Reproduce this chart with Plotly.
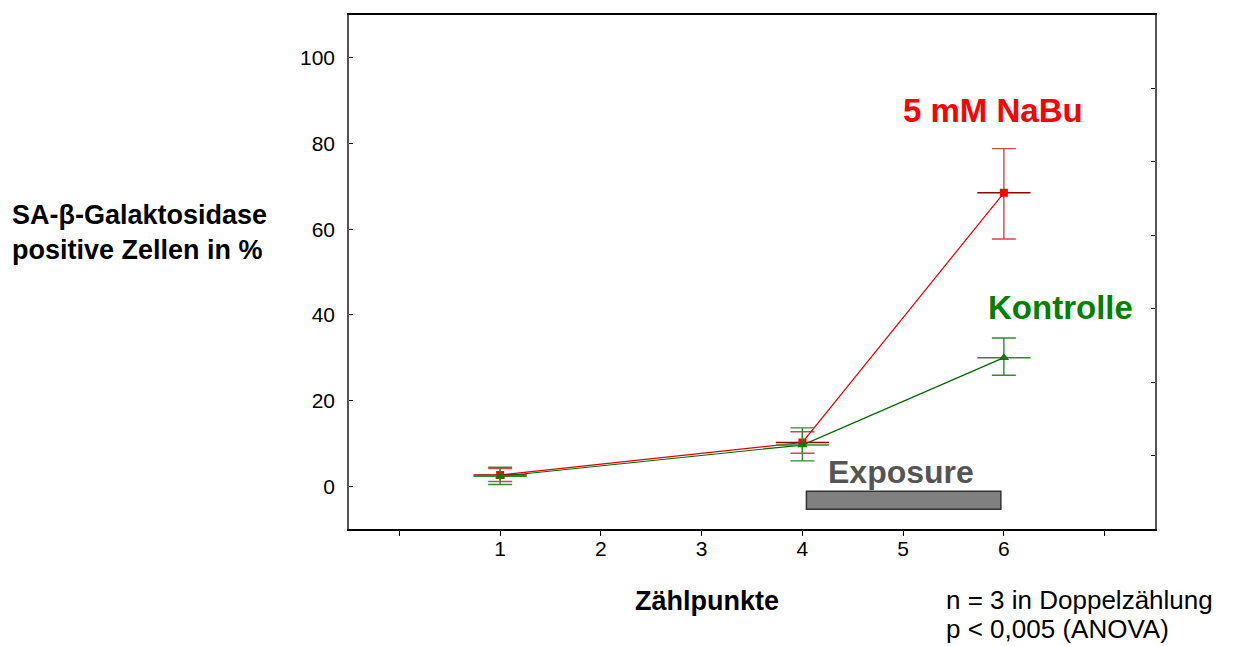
import plotly.graph_objects as go

# ---- data ----
timepoints = [1, 4, 6]
kontrolle_mean = [2.3, 9.6, 30.0]
kontrolle_err_plus = [2.1, 4.0, 4.6]
kontrolle_err_minus = [1.9, 3.7, 4.1]
nabu_mean = [2.6, 10.2, 68.5]
nabu_err_plus = [1.5, 2.5, 10.3]
nabu_err_minus = [1.5, 2.5, 10.8]
x_tick_vals = [0, 1, 2, 3, 4, 5, 6, 7]
x_tick_text = ["", "1", "2", "3", "4", "5", "6", ""]
y_tick_vals = [0, 20, 40, 60, 80, 100]
exposure_start = 4.04
exposure_end = 5.97
exposure_low = -5.4
exposure_high = -1.2

FONT = "Liberation Sans, Arial, sans-serif"
RED = "#ff0000"
GREEN = "#008000"

fig = go.Figure()

# NaBu series
fig.add_trace(go.Scatter(
    x=timepoints, y=nabu_mean, mode="lines",
    line=dict(color="#e00000", width=1.2), showlegend=False, hoverinfo="skip",
    error_y=dict(type="data", symmetric=False, array=nabu_err_plus,
                 arrayminus=nabu_err_minus, color="#d04848", thickness=1.4, width=12),
))
fig.add_trace(go.Scatter(
    x=timepoints, y=nabu_mean, mode="markers",
    marker=dict(symbol="line-ew", size=38, line=dict(color="#900000", width=1.5)),
    showlegend=False, hoverinfo="skip",
))
fig.add_trace(go.Scatter(
    x=timepoints, y=nabu_mean, mode="markers",
    marker=dict(symbol="square", size=8, color=RED), showlegend=False,
))

# Kontrolle series
fig.add_trace(go.Scatter(
    x=timepoints, y=kontrolle_mean, mode="lines",
    line=dict(color="#006400", width=1.2), showlegend=False, hoverinfo="skip",
    error_y=dict(type="data", symmetric=False, array=kontrolle_err_plus,
                 arrayminus=kontrolle_err_minus, color="#2e8b2e", thickness=1.4, width=12),
))
fig.add_trace(go.Scatter(
    x=timepoints, y=kontrolle_mean, mode="markers",
    marker=dict(symbol="line-ew", size=38, line=dict(color="#2e8b2e", width=1.5)),
    showlegend=False, hoverinfo="skip",
))
fig.add_trace(go.Scatter(
    x=timepoints, y=kontrolle_mean, mode="markers",
    marker=dict(symbol="triangle-up", size=9, color=GREEN), showlegend=False,
))

# secondary axis only for right-side ticks
fig.add_trace(go.Scatter(x=[None], y=[None], yaxis="y2", showlegend=False))

# Exposure bar
fig.add_shape(type="rect", xref="x", yref="y",
              x0=exposure_start, x1=exposure_end, y0=exposure_low, y1=exposure_high,
              fillcolor="#808080", line=dict(color="#333333", width=1.5))

annotations = [
    dict(x=5.89, y=87.6, xref="x", yref="y", text="<b>5 mM NaBu</b>", showarrow=False,
         font=dict(family=FONT, size=33, color=RED)),
    dict(x=6.56, y=41.6, xref="x", yref="y", text="<b>Kontrolle</b>", showarrow=False,
         font=dict(family=FONT, size=33, color=GREEN)),
    dict(x=4.98, y=3.3, xref="x", yref="y", text="<b>Exposure</b>", showarrow=False,
         font=dict(family=FONT, size=32, color="#555555")),
    dict(x=(10 - 349) / 806, y=0.5775, xref="paper", yref="paper",
         xanchor="left", yanchor="middle", align="left",
         text="<b>SA-β-Galaktosidase<br>positive Zellen in %</b>", showarrow=False,
         font=dict(family=FONT, size=27, color="black")),
    dict(x=(707 - 349) / 806, y=-0.1396, xref="paper", yref="paper",
         xanchor="center", yanchor="middle",
         text="<b>Zählpunkte</b>", showarrow=False,
         font=dict(family=FONT, size=27, color="black")),
    dict(x=(945 - 349) / 806, y=1 - (600 - 13) / 516, xref="paper", yref="paper",
         xanchor="left", yanchor="middle", align="left", borderpad=0,
         text="n = 3 in Doppelzählung", showarrow=False,
         font=dict(family=FONT, size=26, color="black")),
    dict(x=(945 - 349) / 806, y=1 - (629 - 13) / 516, xref="paper", yref="paper",
         xanchor="left", yanchor="middle", align="left", borderpad=0,
         text="p < 0,005 (ANOVA)", showarrow=False,
         font=dict(family=FONT, size=26, color="black")),
]

fig.update_layout(
    width=1229, height=638,
    margin=dict(l=341, r=82, t=5, b=117),
    paper_bgcolor="white", plot_bgcolor="white",
    font=dict(family=FONT, size=21, color="black"),
    xaxis=dict(range=[-0.5, 7.5], tickvals=x_tick_vals, ticktext=x_tick_text,
               ticks="outside", ticklen=5, tickwidth=1, tickcolor="black",
               showline=True, linecolor="black", linewidth=1.5, mirror=True,
               showgrid=False, zeroline=False, tickfont=dict(size=21),
               ticklabelstandoff=-5),
    yaxis=dict(range=[-10, 110], tickvals=y_tick_vals,
               ticks="inside", ticklen=4, tickwidth=1, tickcolor="black",
               showline=True, linecolor="#555555", linewidth=1.5, mirror=True,
               showgrid=False, zeroline=False, tickfont=dict(size=21),
               ticklabelstandoff=8),
    yaxis2=dict(range=[0, 7], tickvals=[1, 2, 3, 4, 5, 6], overlaying="y", side="right",
                ticks="inside", ticklen=4, tickwidth=1, tickcolor="black",
                showticklabels=False, showgrid=False, zeroline=False, showline=False),
    annotations=annotations,
)

fig.write_html("out.html")
